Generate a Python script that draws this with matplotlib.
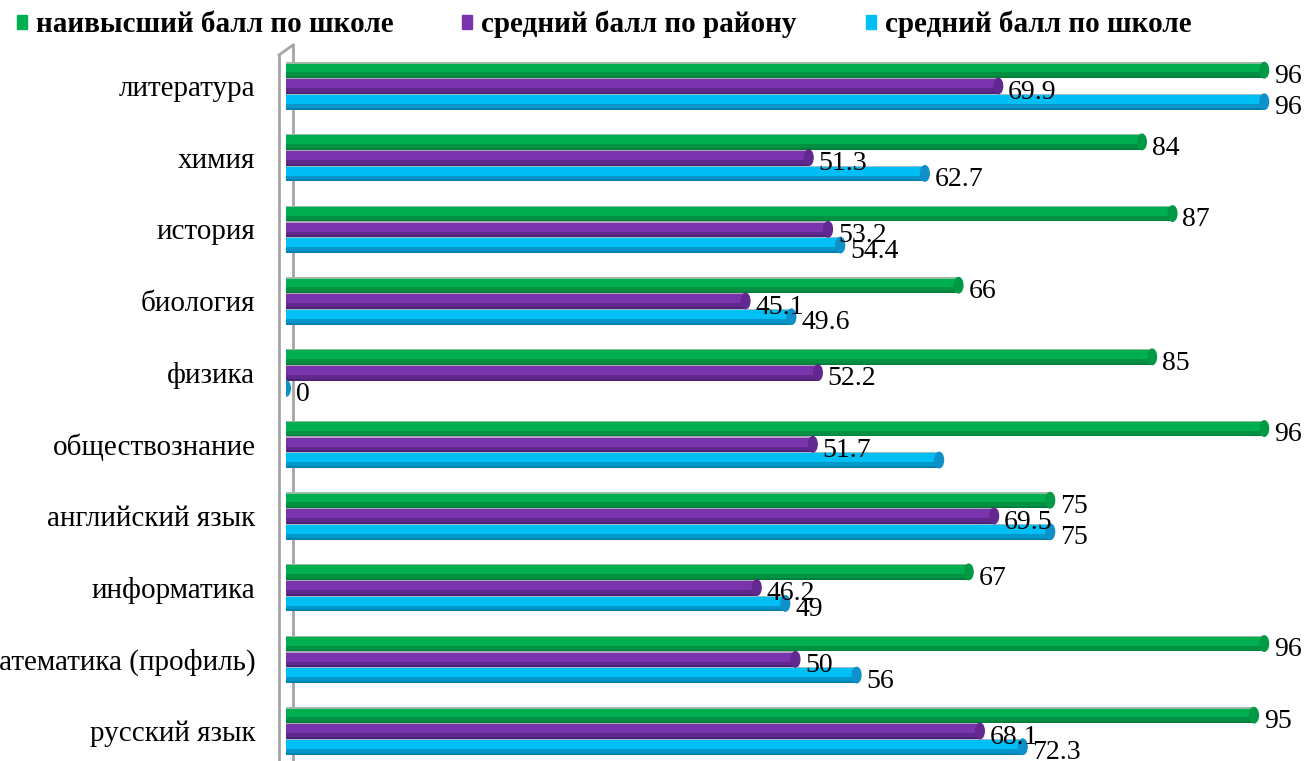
import matplotlib
matplotlib.use("Agg")
import matplotlib.pyplot as plt
from matplotlib.patches import Ellipse, Rectangle
from matplotlib.lines import Line2D

# ---------------------------------------------------------
# Данные (снизу вверх)
# ---------------------------------------------------------
predmety = ["русский язык", "математика (профиль)", "информатика", "английский язык",
            "обществознание", "физика", "биология", "история", "химия", "литература"]
max_shkola = [95, 96, 67, 75, 96, 85, 66, 87, 84, 96]
sred_rayon = [68.1, 50, 46.2, 69.5, 51.7, 52.2, 45.1, 53.2, 51.3, 69.9]
sred_shkola = [72.3, 56, 49, 75, 64.1, 0, 49.6, 54.4, 62.7, 96]
# подпись у "обществознание" на исходнике не видна
skryt_podpis = {("sred_shkola", 4)}

serii = [
    ("max_shkola", "наивысший балл по школе", max_shkola, "#00B050", "#00793A", "#009A46"),
    ("sred_rayon", "средний балл по району", sred_rayon, "#7A35AE", "#4A1F70", "#63288F"),
    ("sred_shkola", "средний балл по школе", sred_shkola, "#00BFF5", "#0A76A8", "#1090C8"),
]

W, H = 1311, 761
fig = plt.figure(figsize=(W / 100, H / 100), dpi=100)
fig.patch.set_facecolor("white")

ax_left, ax_top, ax_right = 286, 50, 286 + 1019
ax = fig.add_axes([ax_left / W, 0, (ax_right - ax_left) / W, (H - ax_top) / H])
ax.set_xlim(0, 100)
ax.set_ylim(-0.419, 9.502)
for s in ax.spines.values():
    s.set_visible(False)
ax.set_xticks([])

bar_h = 0.22
offsets = [bar_h, 0, -bar_h]
shrift = ["Liberation Serif", "DejaVu Serif"]

for (key, name, vals, base, dark, cap), off in zip(serii, offsets):
    for i, v in enumerate(vals):
        y = i + off
        if v > 0:
            # цилиндр: основа, тёмный низ, светлая кромка
            ax.barh(y, v, height=bar_h, color=base, edgecolor="none", zorder=3)
            ax.barh(y - bar_h * 0.32, v, height=bar_h * 0.36, color=dark, alpha=0.55,
                    edgecolor="none", zorder=3.1)
            ax.barh(y - bar_h * 0.44, v, height=bar_h * 0.12, color=dark, alpha=0.7,
                    edgecolor="none", zorder=3.2)
            ax.barh(y + bar_h * 0.46, v, height=bar_h * 0.08, color="#BFBFBF", alpha=0.8,
                    edgecolor="none", zorder=3.2)
        ax.add_patch(Ellipse((v, y), 0.85, bar_h * 0.98, color=cap, zorder=3.3))
        if (key, i) not in skryt_podpis:
            ax.annotate(f"{v:g}", (v, y), xytext=(7, -4.5), textcoords="offset points",
                        ha="left", va="center", fontsize=20, family=shrift,
                        color="black", zorder=5, annotation_clip=False)

ax.set_yticks(range(len(predmety)))
ax.set_yticklabels(predmety, family=shrift, fontsize=21)
ax.tick_params(axis="y", length=0, pad=22)

# 3D-стенка слева
tf = fig.transFigure
fx = lambda x: x / W
fy = lambda y: 1 - y / H
for xs, ys in [((279, 279), (55, 761)), ((293, 293), (45, 761)), ((279, 293), (55, 45))]:
    ax.add_line(Line2D([fx(x) for x in xs], [fy(y) for y in ys], color="#A6A6A6",
                       lw=2, transform=tf, clip_on=False, zorder=1))

# легенда
leg_x = [17, 462, 866]
for (key, name, vals, base, dark, cap), lx in zip(serii, leg_x):
    fig.patches.append(Rectangle((fx(lx), fy(29)), 10 / W, 14 / H, color=base,
                                 transform=tf, figure=fig))
    fig.text(fx(lx + 19), fy(24), name, family=shrift, fontsize=21, fontweight="bold",
             ha="left", va="center", color="black")

fig.savefig("out.png", dpi=100, facecolor="white")
